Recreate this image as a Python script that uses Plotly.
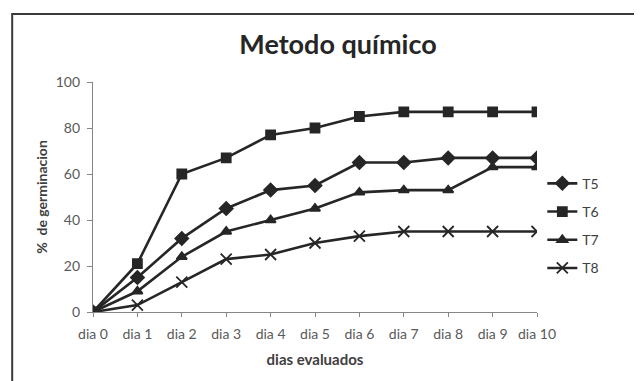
import plotly.graph_objects as go

categories = ["dia 0", "dia 1", "dia 2", "dia 3", "dia 4", "dia 5",
              "dia 6", "dia 7", "dia 8", "dia 9", "dia 10"]
t5 = [0, 15, 32, 45, 53, 55, 65, 65, 67, 67, 67]
t6 = [0, 21, 60, 67, 77, 80, 85, 87, 87, 87, 87]
t7 = [0, 9, 24, 35, 40, 45, 52, 53, 53, 63, 63]
t8 = [0, 3, 13, 23, 25, 30, 33, 35, 35, 35, 35]
y_ticks = [0, 20, 40, 60, 80, 100]

series = [
    ("T5", t5, "diamond", 10),
    ("T6", t6, "square", 9),
    ("T7", t7, "triangle-up", 9),
    ("T8", t8, "x-thin", 11),
]

fig = go.Figure()
for name, vals, sym, sz in series:
    fig.add_trace(go.Scatter(
        x=categories, y=vals, name=name, mode="lines+markers",
        legendgroup=name,
        line=dict(color="#262626", width=2.6),
        marker=dict(symbol=sym, size=sz, color="#262626",
                    line=dict(color="#262626", width=1.8)),
    ))

font_family = "Lato, 'Open Sans', sans-serif"
fig.update_layout(
    width=642, height=381,
    margin=dict(l=85, r=113, t=74, b=77),
    paper_bgcolor="white", plot_bgcolor="white",
    font=dict(family=font_family, color="#595959", size=14),
    title=dict(text="<b>Metodo químico</b>", x=0.514, xanchor="center",
               y=0.903, yanchor="middle",
               font=dict(size=27, color="#262626", family=font_family)),
    showlegend=True,
    legend=dict(x=1.012, xanchor="left", y=0.375, yanchor="middle",
                traceorder="grouped", tracegroupgap=7,
                font=dict(size=14, color="#404040"),
                bgcolor="rgba(0,0,0,0)"),
    shapes=[dict(type="rect", xref="paper", yref="paper",
                 x0=-0.182, x1=2.0, y0=-1.0, y1=1.296,
                 line=dict(color="#3a3a3a", width=2), layer="below")],
)
fig.update_xaxes(
    type="category", range=[0, 10],
    showline=True, linecolor="#868686", linewidth=1.2,
    ticks="outside", ticklen=4, tickcolor="#868686",
    ticklabelstandoff=5,
    showgrid=False, zeroline=False, automargin=False,
    tickfont=dict(size=14, color="#595959"),
    title=dict(text="<b>dias evaluados</b>", standoff=13,
               font=dict(size=15, color="#404040")),
)
fig.update_yaxes(
    range=[0, 100], tickvals=y_ticks,
    showline=True, linecolor="#868686", linewidth=1.2,
    ticks="outside", ticklen=5, tickcolor="#868686",
    ticklabelstandoff=4,
    showgrid=False, zeroline=False, automargin=False,
    tickfont=dict(size=14, color="#595959"),
    title=dict(text="<b>%  de germinacion</b>", standoff=4,
               font=dict(size=14, color="#404040")),
)
fig.write_html("out.html")
